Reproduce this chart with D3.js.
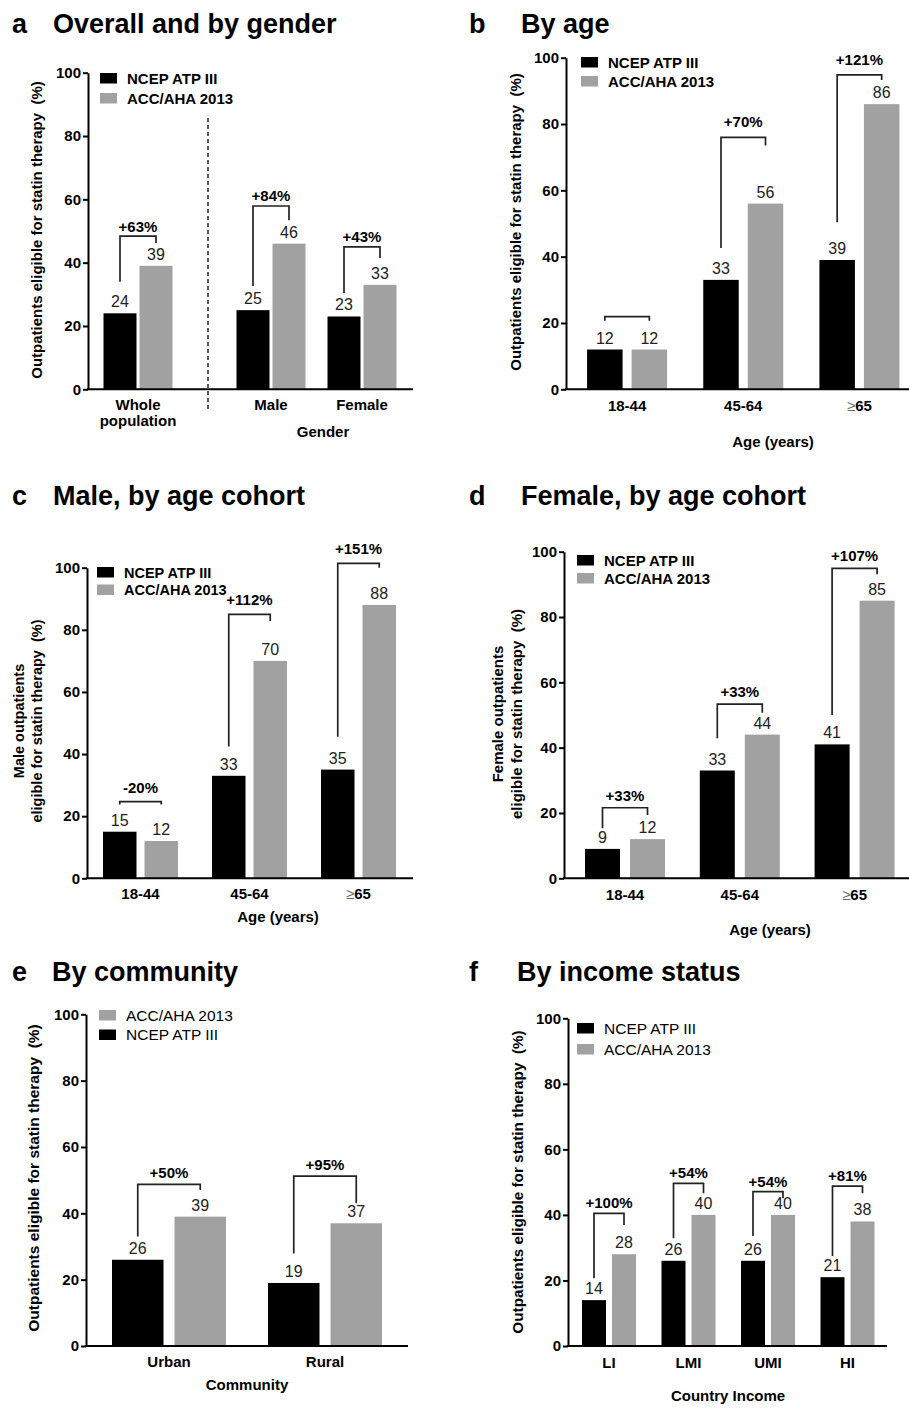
<!DOCTYPE html>
<html lang="en">
<head>
<meta charset="UTF-8">
<title>Outpatients eligible for statin therapy</title>
<script src="https://d3js.org/d3.v7.min.js"></script>
<style>
  body { margin: 0; background: #fff; }
  svg { display: block; font-family: "Liberation Sans", Arial, sans-serif; }
</style>
</head>
<body>
<script>
// ---- data ----
const series = ['NCEP ATP III', 'ACC/AHA 2013'];
const seriesColor = ['#000000', '#a1a1a1'];
const yTicks = [0, 20, 40, 60, 80, 100];

// a: overall and by gender
const aCats = ['Whole population', 'Male', 'Female'];
const aNcep = [24, 25, 23];
const aAcc = [39, 46, 33];
const aChange = ['+63%', '+84%', '+43%'];
const aBracket = [[34, 48.4, 46.2], [32.6, 57.9, 53.4], [30.4, 45, 41.5]];

// b: by age
const bCats = ['18-44', '45-64', '≥65'];
const bNcep = [12, 33, 39];
const bAcc = [12, 56, 86];
const bChange = ['', '+70%', '+121%'];
const bBracket = [[20.7, 21.9, 20.7], [42.6, 76, 73.5], [50.4, 94.8, 93.3]];

// c: male, by age cohort
const cCats = ['18-44', '45-64', '≥65'];
const cNcep = [15, 33, 35];
const cAcc = [12, 70, 88];
const cChange = ['-20%', '+112%', '+151%'];
const cBracket = [[23.8, 24.7, 23.8], [42.4, 85, 82.8], [45.6, 101.4, 100]];

// d: female, by age cohort
const dCats = ['18-44', '45-64', '≥65'];
const dNcep = [9, 33, 41];
const dAcc = [12, 44, 85];
const dChange = ['+33%', '+33%', '+107%'];
const dBracket = [[15.3, 21.6, 19.4], [42.9, 53.3, 50.7], [50, 94.9, 93.1]];

// e: by community
const eCats = ['Urban', 'Rural'];
const eNcep = [26, 19];
const eAcc = [39, 37];
const eChange = ['+50%', '+95%'];
const eBracket = [[33, 48.7, 47], [27.9, 51.2, 43]];

// f: by income status
const fCats = ['LI', 'LMI', 'UMI', 'HI'];
const fNcep = [14, 26, 26, 21];
const fAcc = [28, 40, 40, 38];
const fChange = ['+100%', '+54%', '+54%', '+81%'];
const fBracket = [[20.7, 40.5, 36.9], [32.9, 49.6, 46.6], [33.6, 47.1, 45.1], [27.5, 48.8, 46.6]];

// ---- layout ----
const W = 909, H = 1408;
const svg = d3.select('body').append('svg').attr('width', W).attr('height', H);

const panels = [
  { letter: 'a', title: 'Overall and by gender', lx: 12, tx: 53, ty: 33,
    cats: aCats, ncep: aNcep, acc: aAcc, change: aChange, bracket: aBracket,
    segments: [{ cats: ['Whole population'], range: [92.5, 183.5] }, { cats: ['Male', 'Female'], range: [225.5, 407.5] }],
    axisX: 88, xEnd: 413, yTop: 72.7, yBase: 389.3, bw: 33, gap: 3, labelGap: 4.5,
    yTitle: ['Outpatients eligible for statin therapy  (%)'], yTitleX: [37], yTitleY: 230, yTitleSize: 15,
    catY: 410, wrap: true, xTitle: 'Gender', xTitleX: 323, xTitleY: 437,
    legend: { x: 100, y: 73, step: 20, bold: true, size: 15, order: [0, 1] },
    divider: { x: 208, y1: 118, y2: 410 } },
  { letter: 'b', title: 'By age', lx: 469, tx: 521, ty: 33,
    cats: bCats, ncep: bNcep, acc: bAcc, change: bChange, bracket: bBracket,
    segments: [{ cats: bCats, range: [569, 917.5] }],
    axisX: 566, xEnd: 909, yTop: 57.7, yBase: 389.3, bw: 35.5, gap: 9, labelGap: 10,
    yTitle: ['Outpatients eligible for statin therapy  (%)'], yTitleX: [516], yTitleY: 222, yTitleSize: 15,
    catY: 411, xTitle: 'Age (years)', xTitleX: 773, xTitleY: 447,
    legend: { x: 581, y: 57, step: 19, bold: true, size: 15, order: [0, 1] } },
  { letter: 'c', title: 'Male, by age cohort', lx: 12, tx: 53, ty: 505,
    cats: cCats, ncep: cNcep, acc: cAcc, change: cChange, bracket: cBracket,
    segments: [{ cats: cCats, range: [86, 413] }],
    axisX: 87, xEnd: 413, yTop: 567.7, yBase: 878.3, bw: 33.5, gap: 8, labelGap: 9,
    yTitle: ['Male outpatients', 'eligible for statin therapy  (%)'], yTitleX: [18.5, 36.5], yTitleY: 721, yTitleSize: 14.5,
    catY: 899, xTitle: 'Age (years)', xTitleX: 278, xTitleY: 922,
    legend: { x: 97, y: 567, step: 17.5, bold: true, size: 14.5, order: [0, 1] } },
  { letter: 'd', title: 'Female, by age cohort', lx: 469, tx: 521, ty: 505,
    cats: dCats, ncep: dNcep, acc: dAcc, change: dChange, bracket: dBracket,
    segments: [{ cats: dCats, range: [567.6, 912] }],
    axisX: 564, xEnd: 909, yTop: 551.7, yBase: 878.3, bw: 35, gap: 10, labelGap: 7,
    yTitle: ['Female outpatients', 'eligible for statin therapy  (%)'], yTitleX: [497.5, 516.5], yTitleY: 714, yTitleSize: 15,
    catY: 899.5, xTitle: 'Age (years)', xTitleX: 770, xTitleY: 935,
    legend: { x: 577, y: 555, step: 18, bold: true, size: 15, order: [0, 1] } },
  { letter: 'e', title: 'By community', lx: 12, tx: 52, ty: 981,
    cats: eCats, ncep: eNcep, acc: eAcc, change: eChange, bracket: eBracket,
    segments: [{ cats: eCats, range: [91, 403] }],
    axisX: 86, xEnd: 408, yTop: 1014.3, yBase: 1346, bw: 51.5, gap: 11, labelGap: 6.5,
    yTitle: ['Outpatients eligible for statin therapy  (%)'], yTitleX: [33.5], yTitleY: 1178, yTitleSize: 15.5,
    catY: 1367, xTitle: 'Community', xTitleX: 247, xTitleY: 1390,
    legend: { x: 99, y: 1010, step: 19.5, bold: false, size: 15.5, order: [1, 0] } },
  { letter: 'f', title: 'By income status', lx: 469, tx: 517, ty: 981,
    cats: fCats, ncep: fNcep, acc: fAcc, change: fChange, bracket: fBracket,
    segments: [{ cats: fCats, range: [569.25, 887.25] }],
    axisX: 568, xEnd: 887, yTop: 1018.3, yBase: 1346, bw: 24, gap: 6, labelGap: 5,
    yTitle: ['Outpatients eligible for statin therapy  (%)'], yTitleX: [517.5], yTitleY: 1182, yTitleSize: 15.3,
    catY: 1367.5, xTitle: 'Country Income', xTitleX: 728, xTitleY: 1401,
    legend: { x: 577, y: 1023, step: 21, bold: false, size: 15.5, order: [0, 1] } }
];

function drawPanel(p) {
  const g = svg.append('g');

  // title
  g.append('text').attr('x', p.lx).attr('y', p.ty)
    .attr('font-size', 27).attr('font-weight', 'bold').text(p.letter);
  g.append('text').attr('x', p.tx).attr('y', p.ty)
    .attr('font-size', 27).attr('font-weight', 'bold').text(p.title);

  const y = d3.scaleLinear().domain([0, 100]).range([p.yBase, p.yTop]);

  // group centres from band scales
  const center = {};
  p.segments.forEach(seg => {
    const band = d3.scaleBand().domain(seg.cats).range(seg.range);
    seg.cats.forEach(c => { center[c] = band(c) + band.bandwidth() / 2; });
  });
  const pair = 2 * p.bw + p.gap;
  const inner = d3.scaleBand().domain(series).range([-pair / 2, pair / 2])
    .paddingInner(p.gap / (p.bw + p.gap));

  const rows = [];
  p.cats.forEach((c, i) => {
    rows.push({ cat: c, key: series[0], v: p.ncep[i], col: seriesColor[0] });
    rows.push({ cat: c, key: series[1], v: p.acc[i], col: seriesColor[1] });
  });
  const barX = d => center[d.cat] + inner(d.key);

  g.selectAll('rect.bar').data(rows).enter().append('rect')
    .attr('class', 'bar')
    .attr('x', barX)
    .attr('y', d => y(d.v))
    .attr('width', inner.bandwidth())
    .attr('height', d => y(0) - y(d.v))
    .attr('fill', d => d.col);

  g.selectAll('text.val').data(rows).enter().append('text')
    .attr('class', 'val')
    .attr('x', d => barX(d) + inner.bandwidth() / 2)
    .attr('y', d => y(d.v) - 6)
    .attr('text-anchor', 'middle')
    .attr('font-size', 16)
    .attr('fill', '#222')
    .text(d => d.v);

  // brackets
  const half = inner.bandwidth() / 2;
  p.cats.forEach((c, i) => {
    const [l0, top, r0] = p.bracket[i];
    const xl = center[c] + inner(series[0]) + half;
    const xr = center[c] + inner(series[1]) + half;
    g.append('path')
      .attr('d', `M${xl},${y(l0)}V${y(top)}H${xr}V${y(r0)}`)
      .attr('fill', 'none').attr('stroke', '#222').attr('stroke-width', 1.7);
    if (p.change[i]) {
      g.append('text').attr('x', (xl + xr) / 2).attr('y', y(top) - p.labelGap)
        .attr('text-anchor', 'middle').attr('font-size', 15).attr('font-weight', 'bold')
        .text(p.change[i]);
    }
  });

  // axes
  const yAxis = d3.axisLeft(y).tickValues(yTicks).tickSize(5).tickPadding(2).tickSizeOuter(0);
  const ya = g.append('g').attr('transform', `translate(${p.axisX},0)`).call(yAxis);
  ya.select('.domain').attr('stroke', '#000').attr('stroke-width', 2);
  ya.selectAll('.tick line').attr('stroke', '#000').attr('stroke-width', 2);
  ya.selectAll('.tick text').attr('font-size', 15).attr('font-weight', 'bold')
    .attr('font-family', '"Liberation Sans", Arial, sans-serif').attr('fill', '#000');

  g.append('line').attr('x1', p.axisX - 1).attr('x2', p.xEnd)
    .attr('y1', p.yBase).attr('y2', p.yBase)
    .attr('stroke', '#000').attr('stroke-width', 2);

  // category labels
  p.cats.forEach(c => {
    const t = g.append('text').attr('x', center[c]).attr('y', p.catY)
      .attr('text-anchor', 'middle').attr('font-size', 15).attr('font-weight', 'bold');
    if (p.wrap && c.includes(' ')) {
      c.split(' ').forEach((w, k) => {
        t.append('tspan').attr('x', center[c]).attr('dy', k ? 16 : 0).text(w);
      });
    } else if (c.startsWith('≥')) {
      t.append('tspan').attr('font-weight', 'normal').attr('fill', '#666').text('≥');
      t.append('tspan').text(c.slice(1));
    } else {
      t.text(c);
    }
  });

  g.append('text').attr('x', p.xTitleX).attr('y', p.xTitleY)
    .attr('text-anchor', 'middle').attr('font-size', 15).attr('font-weight', 'bold')
    .text(p.xTitle);

  // y title
  p.yTitle.forEach((line, k) => {
    g.append('text')
      .attr('transform', `translate(${p.yTitleX[k]},${p.yTitleY}) rotate(-90)`)
      .attr('dy', '0.35em')
      .attr('text-anchor', 'middle').attr('font-size', p.yTitleSize).attr('font-weight', 'bold')
      .style('white-space', 'pre')
      .text(line);
  });

  // legend
  const L = p.legend;
  L.order.forEach((si, k) => {
    const ly = L.y + k * L.step;
    g.append('rect').attr('x', L.x).attr('y', ly).attr('width', 17).attr('height', 10.5)
      .attr('fill', seriesColor[si]);
    g.append('text').attr('x', L.x + 27).attr('y', ly + 10.5)
      .attr('font-size', L.size).attr('font-weight', L.bold ? 'bold' : 'normal')
      .text(series[si]);
  });

  if (p.divider) {
    g.append('line').attr('x1', p.divider.x).attr('x2', p.divider.x)
      .attr('y1', p.divider.y1).attr('y2', p.divider.y2)
      .attr('stroke', '#222').attr('stroke-width', 1.5).attr('stroke-dasharray', '4,3');
  }
}

panels.forEach(drawPanel);
</script>
</body>
</html>
